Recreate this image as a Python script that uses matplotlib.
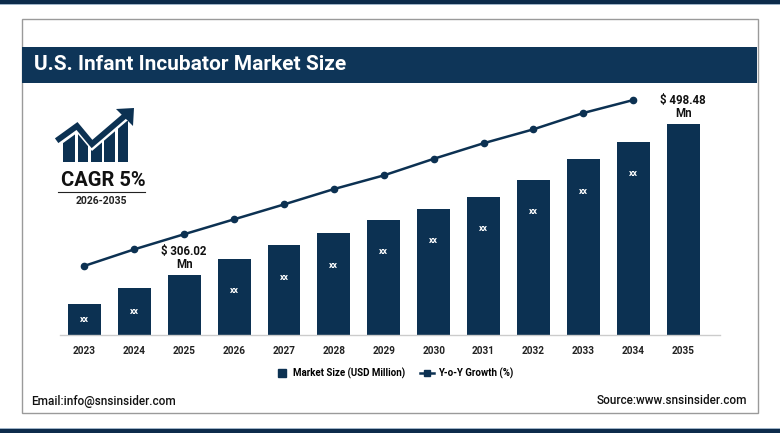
import numpy as np
import matplotlib
matplotlib.use("Agg")
import matplotlib.pyplot as plt
from matplotlib.patches import Rectangle, Polygon
from matplotlib.lines import Line2D

plt.rcParams['font.family'] = ['Roboto', 'DejaVu Sans']

navy = '#0c3152'

years = ['2023', '2024', '2025', '2026', '2027', '2028', '2029',
         '2030', '2031', '2032', '2033', '2034', '2035']
market_size = [269.0, 289.4, 306.02, 326.4, 344.2, 359.5, 376.1,
               390.1, 405.4, 427.1, 453.8, 475.5, 498.48]
yoy_growth = [2.88, 3.57, 4.20, 4.82, 5.44, 6.08, 6.65,
              7.34, 7.99, 8.57, 9.25, 9.79]
bar_labels = ['xx', 'xx', '', 'xx', 'xx', 'xx', 'xx',
              'xx', 'xx', 'xx', 'xx', 'xx', '']
value_labels = {2: '$ 306.02\nMn', 12: '$ 498.48\nMn'}

fig = plt.figure(figsize=(7.8, 4.33), dpi=100)
W, H = 780, 433

def fx(x):
    return x / W

def fy(y):
    return 1 - y / H

# frame decorations
fig.add_artist(Rectangle((0, fy(4)), 1, 4 / H, transform=fig.transFigure,
                         color='#0d2b4b', lw=0))
fig.add_artist(Rectangle((0, fy(5)), 1, 1 / H, transform=fig.transFigure,
                         color='#9fb4c8', lw=0))
fig.add_artist(Rectangle((0, 0), 1, 4.5 / H, transform=fig.transFigure,
                         color='#0d2b4b', lw=0))
fig.add_artist(Rectangle((0, 4.5 / H), 1, 1 / H, transform=fig.transFigure,
                         color='#9fb4c8', lw=0))
fig.add_artist(Rectangle((fx(22), fy(413)), fx(736), 394 / H,
                         transform=fig.transFigure, fill=False,
                         ec='#9a9a9a', lw=1))
fig.add_artist(Rectangle((fx(22), fy(83)), fx(735), 36 / H,
                         transform=fig.transFigure, color='#0e3558', lw=0))
fig.text(fx(34), fy(65), 'U.S. Infant Incubator Market Size', color='white',
         fontsize=15, fontweight='bold', va='center', ha='left')

# CAGR icon (growth chart glyph)
zig_x = [59, 77, 92, 127]
zig_y = [139, 126, 144, 114]
icon_bars = [(63, 75), (78, 88), (91, 102), (104, 115), (118, 128)]
for x0, x1 in icon_bars:
    xs = np.linspace(x0, x1, 12)
    tops = np.interp(xs, zig_x, zig_y) + 7
    pts = [(fx(x0), fy(162))] + [(fx(a), fy(b)) for a, b in zip(xs, tops)] \
        + [(fx(x1), fy(162))]
    fig.add_artist(Polygon(pts, closed=True, transform=fig.transFigure,
                           color=navy, lw=0))
fig.add_artist(Line2D([fx(v) for v in zig_x], [fy(v) for v in zig_y],
                      transform=fig.transFigure, color=navy, lw=4.2,
                      solid_joinstyle='miter'))
fig.add_artist(Polygon([(fx(116), fy(109)), (fx(134), fy(108)),
                        (fx(133), fy(126))], closed=True,
                       transform=fig.transFigure, color=navy, lw=0))
fig.text(fx(103), fy(181), 'CAGR 5%', fontsize=14.5, fontweight='bold',
         ha='center', va='center', color='#111111')
fig.add_artist(Line2D([fx(58), fx(145)], [fy(191.5), fy(191.5)],
                      transform=fig.transFigure, color='#222222', lw=0.8))
fig.text(fx(101), fy(201), '2026-2035', fontsize=7.5, fontweight='bold',
         ha='center', va='center', color='#222222')

# main chart
ax = fig.add_axes([fx(60), fy(335), fx(660), 240 / H])
x = np.arange(len(years))
ylo = 229.5
ax.bar(x, market_size, width=0.66, color=navy)
ax.set_ylim(ylo, ylo + 1.2746 * 240)
ax.set_xlim(-0.49, 12.74)
for s in ['top', 'right', 'left']:
    ax.spines[s].set_visible(False)
ax.spines['bottom'].set_color('#cccccc')
ax.spines['bottom'].set_linewidth(1)
ax.set_yticks([])
ax.set_xticks(x)
ax.set_xticklabels(years, fontsize=7.2, fontweight='bold', color='#222222')
ax.tick_params(axis='x', length=0, pad=8)

px = 1.2746
for i, v in enumerate(market_size):
    if bar_labels[i]:
        yl = max((ylo + v) / 2, v - 32 * px)
        ax.text(i, yl, bar_labels[i], color='white', fontsize=6.3,
                fontweight='bold', ha='center', va='center')
    if i in value_labels:
        ax.annotate(value_labels[i], (i, v), xytext=(0, 4),
                    textcoords='offset pixels', ha='center', va='bottom',
                    fontsize=8.3, fontweight='bold', color='#111111',
                    linespacing=0.95, annotation_clip=False)

ax2 = ax.twinx()
ax2.plot(x[:len(yoy_growth)], yoy_growth, color=navy, lw=1.8,
         marker='o', markersize=4.5)
ax2.set_ylim(0, 10)
ax2.axis('off')

handles = [Line2D([], [], color=navy, lw=0, marker='s', markersize=5.5),
           Line2D([], [], color=navy, lw=1.8, marker='s', markersize=4.5)]
fig.legend(handles, ['Market Size (USD Million)', 'Y-o-Y Growth (%)'],
           loc='center', bbox_to_anchor=(fx(394), fy(373)), ncol=2,
           frameon=False, prop={'size': 7, 'weight': 'bold'},
           handlelength=1.4, columnspacing=1.6, handletextpad=0.4)

fig.text(fx(31), fy(401), 'Email:info@snsinsider.com', fontsize=8.5,
         fontweight='medium', ha='left', va='center', color='#111111')
fig.text(fx(747), fy(400), 'Source:www.snsinsider.com', fontsize=8.5,
         fontweight='medium', ha='right', va='center', color='#111111')

fig.savefig('out.png', dpi=100)
